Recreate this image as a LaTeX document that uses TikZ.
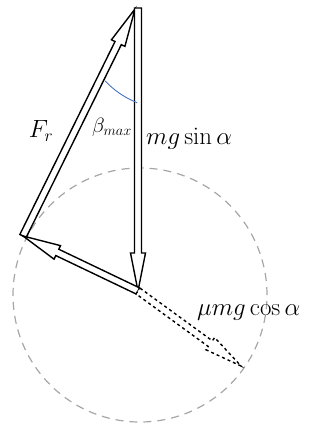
\documentclass[tikz,border=0pt]{standalone}
\usepackage{xcolor}
\definecolor{ink}{HTML}{000000}
\definecolor{rim}{HTML}{A6A6A6}
\definecolor{angc}{HTML}{4472C4}
\usepackage{tikz}
\usetikzlibrary{calc}
\newcommand{\shaftw}{3.5pt}
\newcommand{\headw}{7.5pt}
\newcommand{\headl}{38pt}
% hollow force vector from #2 to #3
\newcommand{\forcevec}[3][]{%
  \draw[vec,#1] let \p1=($(#3)-(#2)$), \n1={veclen(\x1,\y1)}, \n2={atan2(\y1,\x1)} in
    ($(#2)+(\n2+90:\shaftw)$)
    -- ($(#2)+(\n2:\n1-\headl)+(\n2+90:\shaftw)$)
    -- ($(#2)+(\n2:\n1-\headl)+(\n2+90:\headw)$)
    -- (#3)
    -- ($(#2)+(\n2:\n1-\headl)+(\n2-90:\headw)$)
    -- ($(#2)+(\n2:\n1-\headl)+(\n2-90:\shaftw)$)
    -- ($(#2)+(\n2-90:\shaftw)$) -- cycle;}

\begin{document}
\begin{tikzpicture}[x=1pt,y=-1pt,
  font=\huge,
  vec/.style={draw=ink,fill=white,line width=1.4pt,line join=miter},
  lbl/.style={inner sep=0pt,scale=1.2}]
\useasboundingbox (0,0) rectangle (321,425);
\coordinate (top) at (138,8);
\coordinate (tip) at (138,291);
\coordinate (left) at (23,236);
\coordinate (frtip) at (135,9);
\coordinate (far) at (241,366);
\coordinate (mid) at (140,295);
\coordinate (arcc) at (170,20);
% friction cone
\draw[rim,line width=1.2pt,dash pattern=on 8pt off 6pt] (mid) circle[radius=127pt];
% forces
\forcevec{left}{frtip}
\forcevec{top}{tip}
\forcevec{tip}{left}
\forcevec[dashed]{tip}{far}
% angle
\draw[angc,line width=0.9pt] ([shift={(-136.8:89pt)}]arcc) arc[start angle=-136.8,end angle=-111.7,radius=89pt];
\node[lbl] (fr) at (41,131) {$F_r$};
\node[lbl,font=\LARGE,scale=1] (beta) at (112,127) {$\beta_{max}$};
\node[lbl,anchor=west] (mgs) at (146,139) {$mg\sin\alpha$};
\node[lbl,anchor=west] (mgc) at (197,313) {$\mu mg\cos\alpha$};
\end{tikzpicture}
\end{document}
